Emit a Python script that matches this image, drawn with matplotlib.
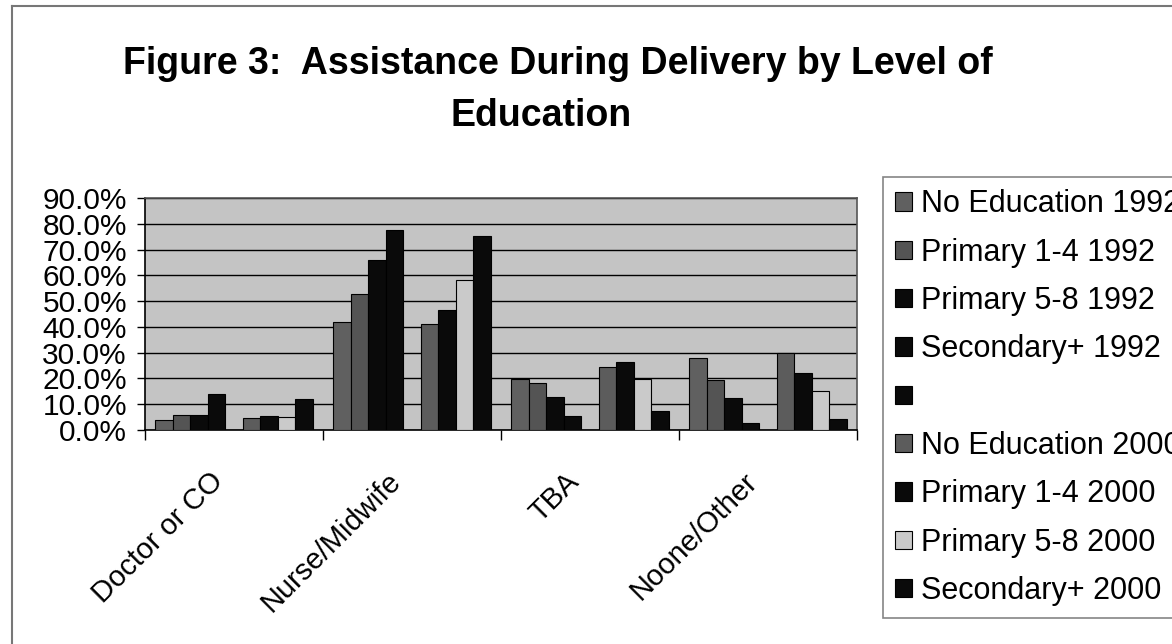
import matplotlib
matplotlib.use("Agg")
import matplotlib.pyplot as plt
import matplotlib.transforms as mtransforms
import numpy as np
from matplotlib.lines import Line2D

plt.rcParams['font.family'] = ['Liberation Sans', 'DejaVu Sans']

categories = ["Doctor or CO", "Nurse/Midwife", "TBA", "Noone/Other"]
series_names = ["No Education 1992", "Primary 1-4 1992", "Primary 5-8 1992",
                "Secondary+ 1992", " ", "No Education 2000", "Primary 1-4 2000",
                "Primary 5-8 2000", "Secondary+ 2000"]

no_edu_1992 = [3.8, 42.0, 19.8, 28.1]
prim14_1992 = [5.7, 52.9, 18.2, 19.4]
prim58_1992 = [5.7, 65.8, 12.8, 12.5]
secondary_1992 = [13.8, 77.4, 5.6, 2.6]
spacer = [0.0, 0.0, 0.0, 0.0]
no_edu_2000 = [4.5, 41.1, 24.5, 29.8]
prim14_2000 = [5.6, 46.7, 26.5, 22.0]
prim58_2000 = [5.0, 58.3, 19.7, 15.3]
secondary_2000 = [12.0, 75.4, 7.2, 4.4]

yticks = [0, 10, 20, 30, 40, 50, 60, 70, 80, 90]

all_series = [no_edu_1992, prim14_1992, prim58_1992, secondary_1992, spacer,
              no_edu_2000, prim14_2000, prim58_2000, secondary_2000]
fills = ["#606060", "#545454", "#0a0a0a", "#0a0a0a", "#0a0a0a",
         "#5c5c5c", "#0a0a0a", "#cacaca", "#0a0a0a"]

W, H = 1172, 644
fig = plt.figure(figsize=(W / 100, H / 100), dpi=100)
fig.patch.set_facecolor("white")

ax = fig.add_axes([145 / W, 1 - 430 / H, (857 - 145) / W, (430 - 198) / H])
ax.set_facecolor("#c4c4c4")

x = np.arange(len(categories))
bw = 17.5 / 178
handles = []
for i, (vals, col) in enumerate(zip(all_series, fills)):
    bars = ax.bar(x + (i - 4) * bw, vals, width=bw, color=col,
                  edgecolor="black", linewidth=0.8, zorder=3)
    handles.append(bars)

ax.set_xlim(-0.5, len(categories) - 0.5)
ax.set_ylim(0, 90)
ax.set_yticks(yticks)
ax.set_yticklabels([f"{v:.1f}%" for v in yticks], fontsize=21.5)
ax.yaxis.grid(True, color="black", linewidth=1.0, zorder=1)
ax.set_axisbelow(True)

ax.set_xticks(x)
ax.set_xticklabels(categories, fontsize=21, rotation=45, ha="right",
                   va="center", rotation_mode="anchor")
ax.tick_params(axis="x", which="major", length=0, pad=34)
shift = mtransforms.ScaledTranslation(-15 / 100, 0, fig.dpi_scale_trans)
for lbl in ax.get_xticklabels():
    lbl.set_transform(lbl.get_transform() + shift)
ax.set_xticks(np.arange(-0.5, len(categories)), minor=True)
ax.tick_params(axis="x", which="minor", length=7, width=1, direction="out")
ax.tick_params(axis="y", length=6, width=1, direction="out", pad=7)

for side in ["left", "bottom"]:
    ax.spines[side].set_color("black")
    ax.spines[side].set_linewidth(1.2)
for side in ["top", "right"]:
    ax.spines[side].set_color("#555555")
    ax.spines[side].set_linewidth(1.2)

# Title, two centred lines
fig.text(558 / W, 1 - 74 / H, "Figure 3:  Assistance During Delivery by Level of",
         ha="center", va="baseline", fontsize=27, fontweight="bold")
fig.text(541 / W, 1 - 126 / H, "Education",
         ha="center", va="baseline", fontsize=27, fontweight="bold")

# Legend on the right, running off the edge of the sheet
leg = fig.legend(handles, series_names, loc="upper left",
                 bbox_to_anchor=(883 / W, 1 - 177 / H), fontsize=22,
                 frameon=True, fancybox=False, edgecolor="#666666",
                 handlelength=0.55, handleheight=0.55, handletextpad=0.3,
                 labelspacing=0.6, borderpad=0.4, borderaxespad=0)
leg.get_frame().set_linewidth(1.2)

# Outer sheet border (left and top edges)
fig.add_artist(Line2D([12 / W, 12 / W], [0, 1 - 6 / H], transform=fig.transFigure,
                      color="#777777", linewidth=1.5))
fig.add_artist(Line2D([12 / W, 1], [1 - 6 / H, 1 - 6 / H], transform=fig.transFigure,
                      color="#777777", linewidth=1.5))

fig.savefig("out.png", dpi=100)
